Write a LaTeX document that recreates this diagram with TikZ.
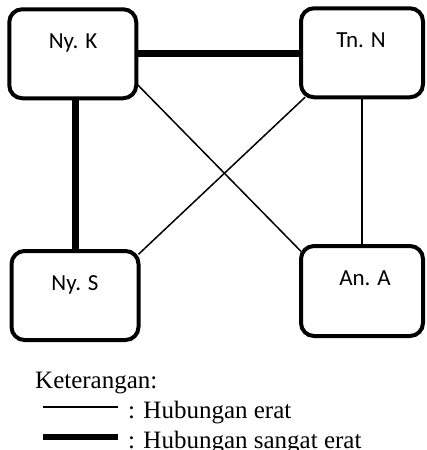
\documentclass[tikz,border=0pt]{standalone}
\usepackage{fontspec}
\setmainfont{Liberation Serif}
\newfontfamily\boxfont{Carlito}
\begin{document}
\begin{tikzpicture}[x=1pt,y=-1pt,
  person/.style={draw,line width=4pt,rounded corners=13pt,minimum width=127pt,minimum height=89pt,inner sep=0pt,outer sep=0pt},
  personname/.style={anchor=base,font=\boxfont\fontsize{23}{27}\selectfont,inner sep=0pt},
  closeline/.style={line width=1.5pt},
  vcloseline/.style={line width=7pt},
  legendtext/.style={anchor=base west,font=\fontsize{25}{30}\selectfont,inner sep=0pt}]
\useasboundingbox (0,0) rectangle (426,450);
\node[person] (nyk) at (72.75,53.75) {};
\node[person,minimum width=122pt] (tnn) at (362,52.75) {};
\node[person] (nys) at (75,295.5) {};
\node[person,minimum width=122pt,minimum height=90pt] (ana) at (362,291) {};
\node[personname] (tnyk) at (73,48) {Ny. K};
\node[personname] (ttnn) at (361,47) {Tn. N};
\node[personname] (tnys) at (75,290) {Ny. S};
\node[personname] (tana) at (365,285) {An. A};
\draw[vcloseline] (nyk.east) -- (nyk.east -| tnn.west);
\draw[vcloseline] (nys.north) -- (nys.north |- nyk.south);
\draw[closeline] (nyk.-25.6) -- (ana.147);
\draw[closeline] (tnn.-142) -- (nys.33.4);
\draw[closeline] (tnn.south) -- (ana.north);
\node[legendtext] (ket) at (35,388) {Keterangan:};
\coordinate (l1a) at (43,407);
\coordinate (l1b) at (118,407);
\coordinate (l2a) at (43,437);
\coordinate (l2b) at (118,437);
\draw[line width=1.5pt] (l1a) -- (l1b);
\draw[line width=6pt] (l2a) -- (l2b);
\node[legendtext] (k1) at (128,418) {: Hubungan erat};
\node[legendtext] (k2) at (128,448) {: Hubungan sangat erat};
\end{tikzpicture}
\end{document}
